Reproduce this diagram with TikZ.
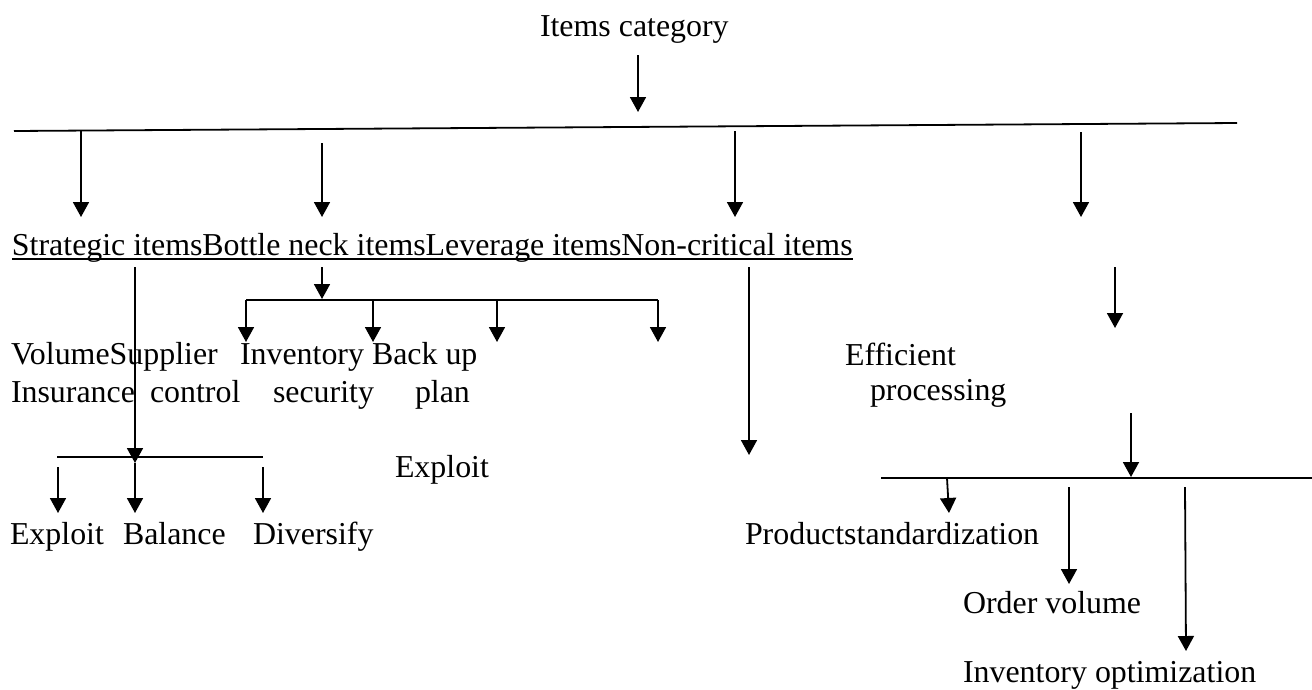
\documentclass[tikz,border=0pt]{standalone}
\usepackage{fontspec}
\setmainfont{Liberation Serif}
\usetikzlibrary{arrows.meta}
\begin{document}
\begin{tikzpicture}[x=1pt,y=-1pt,
  lbl/.style={inner sep=0pt,outer sep=0pt,anchor=base west,font=\fontsize{31.9}{36.7}\selectfont},
  ln/.style={line width=1.8pt},
  arr/.style={line width=1.8pt,-{Triangle[length=15pt,width=16pt]}}]
\useasboundingbox (0,0) rectangle (1312,689);

% title
\node[lbl] (title) at (540,36) {Items category};
\coordinate (ta) at (638,55);
\coordinate (tb) at (638,112);
\draw[arr] (ta) -- (tb);

% main line
\coordinate (L1) at (14,131);
\coordinate (L2) at (1237,123);
\draw[ln] (L1) -- (L2);

% arrows to categories
\coordinate (a1s) at (81,131);   \coordinate (a1e) at (81,217);
\coordinate (a2s) at (322,143);  \coordinate (a2e) at (322,217);
\coordinate (a3s) at (735,131);  \coordinate (a3e) at (735,217);
\coordinate (a4s) at (1081,132); \coordinate (a4e) at (1081,217);
\draw[arr] (a1s) -- (a1e);
\draw[arr] (a2s) -- (a2e);
\draw[arr] (a3s) -- (a3e);
\draw[arr] (a4s) -- (a4e);

% categories
\node[lbl] (strat) at (12,255) {Strategic items};
\node[lbl] (bott) at (strat.base east) {Bottle neck items};
\node[lbl] (lev) at (bott.base east) {Leverage items};
\node[lbl] (nonc) at (lev.base east) {Non-critical items};
\draw[line width=1.6pt] ([yshift=-4pt]strat.base west) -- ([yshift=-4pt]nonc.base east);

% strategic branch
\coordinate (s1) at (135,267);
\coordinate (s2) at (135,463);
\coordinate (s3) at (135,513);
\draw[arr] (s1) -- (s2);
\draw[arr] (s2) -- (s3);
\coordinate (sb1) at (57,457);
\coordinate (sb2) at (263,457);
\draw[ln] (sb1) -- (sb2);
\coordinate (e1s) at (58,467);  \coordinate (e1e) at (58,513);
\coordinate (e3s) at (263,467); \coordinate (e3e) at (263,513);
\draw[arr] (e1s) -- (e1e);
\draw[arr] (e3s) -- (e3e);
\node[lbl] (exploit) at (10,544) {Exploit};
\node[lbl] (balance) at (123,544) {Balance};
\node[lbl] (diversify) at (253,544) {Diversify};

% bottleneck branch
\coordinate (b1) at (322,267);
\coordinate (b2) at (322,299);
\draw[arr] (b1) -- (b2);
\coordinate (bl) at (246,300);
\coordinate (br) at (658,300);
\coordinate (bm1) at (373,300);
\coordinate (bm2) at (497,300);
\coordinate (bld) at (246,342);
\coordinate (brd) at (658,342);
\coordinate (bm1d) at (373,342);
\coordinate (bm2d) at (497,342);
\draw[ln] (bl) -- (br);
\draw[arr] (bl) -- (bld);
\draw[arr] (br) -- (brd);
\draw[arr] (bm1) -- (bm1d);
\draw[arr] (bm2) -- (bm2d);

\node[lbl] (volsup) at (11,364) {VolumeSupplier};
\node[lbl] (invent) at (240,364) {Inventory};
\node[lbl] (backup) at (372,364) {Back up};
\node[lbl] (insur) at (11,402) {Insurance};
\node[lbl] (contr) at (150,402) {control};
\node[lbl] (secur) at (273,402) {security};
\node[lbl] (plan) at (415,402) {plan};

\node[lbl] (exploit2) at (395,477) {Exploit};

% non-critical branch
\coordinate (n1) at (749,267);
\coordinate (n2) at (749,455);
\draw[arr] (n1) -- (n2);

% right branch
\coordinate (r1) at (1115,267);
\coordinate (r2) at (1115,328);
\draw[arr] (r1) -- (r2);
\node[lbl] (effic) at (845,365) {Efficient};
\node[lbl] (proc) at (870,400) {processing};
\coordinate (r3) at (1131,413);
\coordinate (r4) at (1131,477);
\draw[arr] (r3) -- (r4);
\coordinate (rl1) at (881,478);
\coordinate (rl2) at (1312,478);
\draw[ln] (rl1) -- (rl2);
\coordinate (p1) at (947,478); \coordinate (p2) at (949,513);
\draw[arr] (p1) -- (p2);
\node[lbl] (prodstd) at (745,544) {Productstandardization};
\coordinate (o1) at (1069,487); \coordinate (o2) at (1069,584);
\draw[arr] (o1) -- (o2);
\node[lbl] (ordvol) at (963,613) {Order volume};
\coordinate (i1) at (1185,487); \coordinate (i2) at (1186,651);
\draw[arr] (i1) -- (i2);
\node[lbl] (invopt) at (963,682) {Inventory optimization};
\end{tikzpicture}
\end{document}
